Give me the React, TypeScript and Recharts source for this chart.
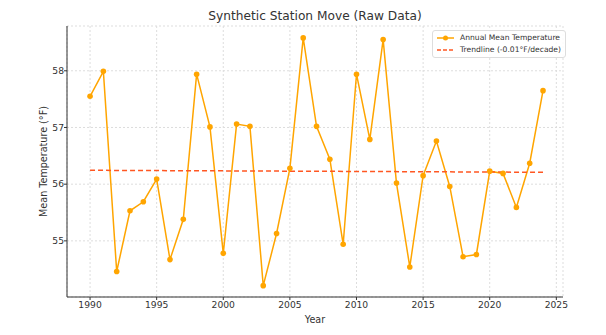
import { LineChart, Line, XAxis, YAxis, CartesianGrid } from "recharts";

const years = [
  1990, 1991, 1992, 1993, 1994, 1995, 1996, 1997, 1998, 1999,
  2000, 2001, 2002, 2003, 2004, 2005, 2006, 2007, 2008, 2009,
  2010, 2011, 2012, 2013, 2014, 2015, 2016, 2017, 2018, 2019,
  2020, 2021, 2022, 2023, 2024,
];

const temps = [
  57.55, 57.99, 54.46, 55.53, 55.69, 56.09, 54.67, 55.38, 57.94, 57.01,
  54.78, 57.06, 57.02, 54.21, 55.13, 56.28, 58.58, 57.02, 56.44, 54.94,
  57.94, 56.79, 58.55, 56.02, 54.54, 56.15, 56.76, 55.96, 54.72, 54.76,
  56.23, 56.19, 55.59, 56.37, 57.65,
];

// trendline endpoints
const trendYears = [1990, 2024];
const trendValues = [56.245, 56.21];

const xTicks = [1990, 1995, 2000, 2005, 2010, 2015, 2020, 2025];
const yTicks = [55, 56, 57, 58];

const data = years.map((year, i) => {
  const t = trendYears.indexOf(year);
  return { year, temp: temps[i], trend: t >= 0 ? trendValues[t] : null };
});

const FONT = "DejaVu Sans, sans-serif";
const TEXT = "#333";

function LegendBox() {
  return (
    <div
      style={{
        position: "absolute",
        left: 432,
        top: 30,
        width: 124,
        border: "1px solid #ddd",
        borderRadius: 3,
        background: "rgba(255,255,255,0.85)",
        padding: "1px 4px",
        fontFamily: FONT,
        fontSize: 7.6,
        color: TEXT,
        lineHeight: "12px",
        whiteSpace: "nowrap",
      }}
    >
      <div style={{ display: "flex", alignItems: "center" }}>
        <svg width={17} height={8} style={{ marginRight: 6 }}>
          <line x1={0} y1={4} x2={17} y2={4} stroke="#FFA500" strokeWidth={1.5} />
          <circle cx={8.5} cy={4} r={2.5} fill="#FFA500" />
        </svg>
        Annual Mean Temperature
      </div>
      <div style={{ display: "flex", alignItems: "center" }}>
        <svg width={17} height={8} style={{ marginRight: 6 }}>
          <line x1={0} y1={4} x2={17} y2={4} stroke="#FF5722" strokeWidth={1.5} strokeDasharray="4 2" />
        </svg>
        Trendline (-0.01°F/decade)
      </div>
    </div>
  );
}

export default function App() {
  return (
    <div style={{ position: "fixed", left: 0, top: 0, width: 606, height: 335, background: "#fff" }}>
      <div
        style={{
          position: "absolute",
          left: 67,
          width: 496,
          top: 9,
          textAlign: "center",
          fontFamily: FONT,
          fontSize: 12.2,
          color: TEXT,
        }}
      >
        Synthetic Station Move (Raw Data)
      </div>
      <LineChart width={606} height={335} data={data} margin={{ top: 26, right: 43, bottom: 0, left: 0 }}>
        <CartesianGrid stroke="#ddd" strokeDasharray="2 2" />
        <XAxis
          dataKey="year"
          type="number"
          domain={[1988.27, 2025.5]}
          ticks={xTicks}
          allowDataOverflow
          height={38}
          tickSize={3}
          tickMargin={1}
          tick={{ fontSize: 9.2, fill: TEXT, fontFamily: FONT }}
          stroke="#333"
          label={{ value: "Year", position: "insideBottom", offset: 12, fontSize: 9.6, fill: TEXT, fontFamily: FONT }}
        />
        <YAxis
          type="number"
          domain={[54.01, 58.79]}
          ticks={yTicks}
          allowDataOverflow
          width={67}
          tickSize={3}
          tickMargin={0}
          tick={{ fontSize: 9.2, fill: TEXT, fontFamily: FONT }}
          stroke="#333"
          label={{
            value: "Mean Temperature (°F)",
            angle: -90,
            position: "center",
            dx: 10,
            fontSize: 9.6,
            fill: TEXT,
            fontFamily: FONT,
          }}
        />
        <Line
          type="linear"
          dataKey="temp"
          stroke="#FFA500"
          strokeWidth={1.5}
          dot={{ r: 2.8, fill: "#FFA500", stroke: "#FFA500", strokeWidth: 0 }}
          isAnimationActive={false}
        />
        <Line
          type="linear"
          dataKey="trend"
          stroke="#FF5722"
          strokeWidth={1.5}
          strokeDasharray="5 3"
          dot={false}
          connectNulls
          isAnimationActive={false}
        />
      </LineChart>
      <LegendBox />
    </div>
  );
}
